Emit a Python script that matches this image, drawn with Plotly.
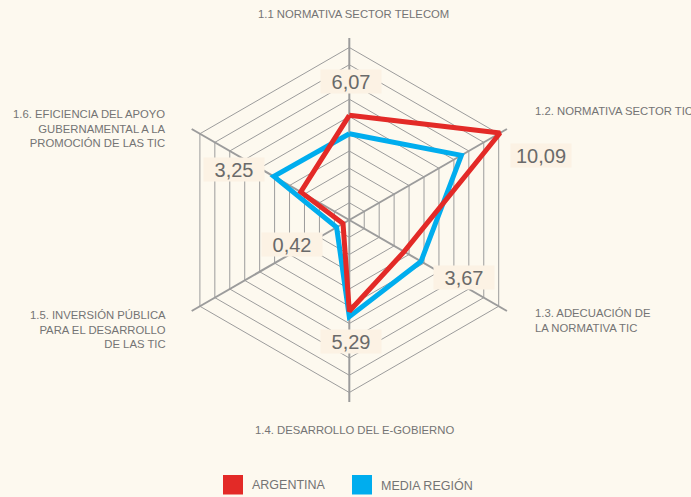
import plotly.graph_objects as go

# ---- data ----
categories = ["1.1", "1.2", "1.3", "1.4", "1.5", "1.6"]
argentina = [6.07, 10.09, 3.67, 5.29, 0.42, 3.25]
media_region = [5.0, 7.5, 4.8, 5.6, 0.85, 5.05]
series_names = ["ARGENTINA", "MEDIA REGIÓN"]
axis_labels = [
    "1.1 NORMATIVA SECTOR TELECOM",
    "1.2. NORMATIVA SECTOR TIC",
    "1.3. ADECUACIÓN DE<br>LA NORMATIVA TIC",
    "1.4. DESARROLLO DEL E-GOBIERNO",
    "1.5. INVERSIÓN PÚBLICA<br>PARA EL DESARROLLO<br>DE LAS TIC",
    "1.6. EFICIENCIA DEL APOYO<br>GUBERNAMENTAL A LA<br>PROMOCIÓN DE LAS TIC",
]

W, H = 691, 497
RED = "#e32a27"
BLUE = "#00adee"
BG = "#fdf9ef"
BOX = "#fcf2e4"
GRID = "#9c9c9c"
TXT = "#747474"
FONT = "Liberation Sans, Arial, sans-serif"


def px(x):
    return x / W


def py(y):
    return 1 - y / H


fig = go.Figure()
for vals, color, name in [(media_region, BLUE, series_names[1]), (argentina, RED, series_names[0])]:
    fig.add_trace(go.Scatterpolar(
        r=vals + vals[:1],
        theta=categories + categories[:1],
        mode="lines",
        line=dict(color=color, width=5),
        name=name,
        showlegend=False,
        hoverinfo="skip",
    ))

# polar geometry: centre (349.3, 220), radius 182 px
cx, cy, R = 349.3, 220.0, 182.0
fig.update_layout(
    width=W, height=H,
    margin=dict(l=0, r=0, t=0, b=0),
    paper_bgcolor=BG,
    plot_bgcolor=BG,
    showlegend=False,
    polar=dict(
        domain=dict(x=[px(cx - R), px(cx + R)], y=[py(cy + R), py(cy - R)]),
        bgcolor="rgba(0,0,0,0)",
        gridshape="linear",
        radialaxis=dict(range=[0, 10.55], tick0=0, dtick=1, showticklabels=False,
                        ticks="", showline=False, gridcolor=GRID, gridwidth=1),
        angularaxis=dict(rotation=90, direction="clockwise", showticklabels=False,
                         ticks="", showline=False, gridcolor=GRID, gridwidth=1.6),
    ),
)

annotations = []
# axis labels: (x, y, xanchor, align)
label_pos = [
    (353, 14, "center", "center"),
    (533, 111, "left", "left"),
    (533, 320.5, "left", "left"),
    (354, 430, "center", "center"),
    (168, 329, "right", "right"),
    (168, 128.3, "right", "right"),
]
for text, (x, y, xa, al) in zip(axis_labels, label_pos):
    annotations.append(dict(
        x=px(x), y=py(y), xref="paper", yref="paper", text=text, showarrow=False,
        xanchor=xa, yanchor="middle", align=al,
        font=dict(family=FONT, size=11.3, color=TXT),
    ))

# value labels (Argentina values)
value_pos = [(351, 81), (541, 155.5), (463.5, 277.5), (351, 341.5), (292, 244), (234, 169.5)]
for v, (x, y) in zip(argentina, value_pos):
    annotations.append(dict(
        x=px(x), y=py(y), xref="paper", yref="paper",
        text=f"{v:.2f}".replace(".", ","), showarrow=False,
        xanchor="center", yanchor="middle", width=60, height=23,
        bgcolor=BOX, borderpad=0,
        font=dict(family=FONT, size=20, color="#6a6a6a"),
    ))

# legend
shapes = []
legend_items = [(223, RED, series_names[0]), (352, BLUE, series_names[1])]
for x0, color, name in legend_items:
    shapes.append(dict(type="rect", xref="paper", yref="paper",
                       x0=px(x0), x1=px(x0 + 20), y0=py(494.5), y1=py(475),
                       fillcolor=color, line=dict(width=0)))
    annotations.append(dict(
        x=px(x0 + 27), y=py(485), xref="paper", yref="paper", text=name,
        showarrow=False, xanchor="left", yanchor="middle",
        font=dict(family=FONT, size=12.5, color=TXT),
    ))

fig.update_layout(annotations=annotations, shapes=shapes)
fig.write_html("out.html", config={"displayModeBar": False},
               post_script="document.body.style.margin='0';")
